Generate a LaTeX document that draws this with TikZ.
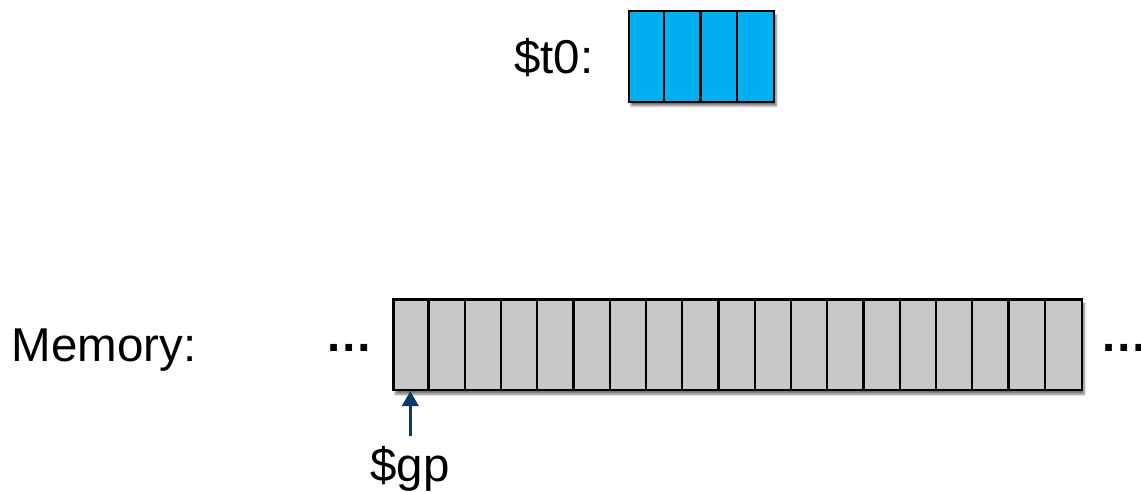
\documentclass[tikz,border=0pt]{standalone}
\usepackage{fontspec}
\setmainfont{Liberation Sans}
\usetikzlibrary{shadows.blur,arrows.meta}
\definecolor{regblue}{HTML}{00B0F0}
\definecolor{memgray}{HTML}{C8C8C8}
\definecolor{ptrnavy}{HTML}{0B3A66}
\tikzset{
  lbl/.style={inner sep=0pt, anchor=base west, font=\fontsize{47.5}{57}\selectfont},
  dots/.style={inner sep=0pt, anchor=base, font=\fontsize{47.5}{57}\selectfont\bfseries},
  cellrow/.style={draw=black, line width=2.2pt, inner sep=0pt, minimum height=90.7pt,
    blur shadow={shadow xshift=2pt, shadow yshift=-4pt, shadow blur steps=6, shadow opacity=55}},
  divider/.style={draw=black, line width=2.2pt},
  ptr/.style={draw=ptrnavy, line width=3.5pt, -{Triangle[length=15pt,width=16pt]}}
}
\begin{document}
\begin{tikzpicture}[x=1pt,y=-1pt]
  \useasboundingbox (0,0) rectangle (1141,492);

  % register $t0 with four byte cells
  \node[lbl] (t0lbl) at (514,74) {\$t0:};
  \node[cellrow, fill=regblue, minimum width=145pt, anchor=north west] (reg) at (628,10) {};
  \foreach \i in {1,2,3} {
    \draw[divider] ([xshift=\i*36.25pt]reg.north west) -- ([xshift=\i*36.25pt]reg.south west);
  }

  % memory row of 19 byte cells
  \node[lbl] (memlbl) at (11.5,361) {Memory:};
  \node[dots] (ldots) at (349.5,351) {…};
  \node[cellrow, fill=memgray, minimum width=688.75pt, anchor=north west] (mem) at (392.3,298.3) {};
  \foreach \i in {1,...,18} {
    \draw[divider] ([xshift=\i*36.25pt]mem.north west) -- ([xshift=\i*36.25pt]mem.south west);
  }
  \node[dots] (rdots) at (1124,351) {…};

  % global pointer
  \node[lbl] (gplbl) at (370,481) {\$gp};
  \coordinate (gptail) at (410.3,436);
  \coordinate (gphead) at ([xshift=18pt]mem.south west);
  \draw[ptr] (gptail) -- (gphead |- 0,391);
\end{tikzpicture}
\end{document}
